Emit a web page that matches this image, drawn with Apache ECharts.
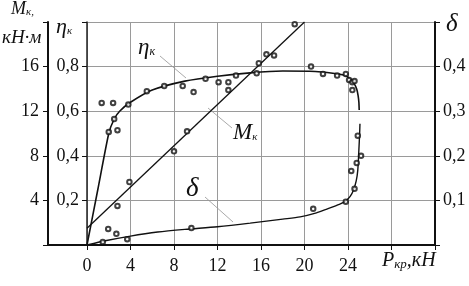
<!DOCTYPE html>
<html><head><meta charset="utf-8">
<script src="https://cdn.jsdelivr.net/npm/echarts@6/dist/echarts.min.js"></script>
<style>html,body{margin:0;padding:0;background:#fff}#c{width:469px;height:286px}</style>
</head><body><div id="c"></div>
<script>
// x-axis ticks (P_kr, kN)
const xTicks = [0, 4, 8, 12, 16, 20, 24];
// M_k straight line (kN·m)
const mkLine = [[0, 1.5], [20, 20]];
// M_k measured points
const mkPoints = [[2.8, 3.5], [3.9, 5.65], [8.0, 8.4], [9.2, 10.2], [13.0, 13.9], [15.6, 15.4], [15.8, 16.3], [16.5, 17.1], [17.2, 17.0], [19.1, 19.8]];
// eta_k curve
const etaCurve = [[0, 0], [1, 0.25], [2, 0.5], [2.5, 0.565], [3, 0.6], [4, 0.64], [6, 0.695], [9, 0.735], [12, 0.757], [15, 0.772], [18, 0.78], [21, 0.778], [22.6, 0.77], [23.6, 0.762], [24.2, 0.745], [24.55, 0.725], [24.8, 0.7], [24.93, 0.67], [25.0, 0.64], [25.03, 0.605]];
// eta_k measured points
const etaPoints = [[1.35, 0.637], [2.4, 0.637], [3.8, 0.63], [5.5, 0.69], [2.5, 0.565], [2.0, 0.507], [2.8, 0.515], [7.1, 0.713], [8.8, 0.713], [9.8, 0.686], [10.9, 0.745], [12.1, 0.73], [13.0, 0.73], [13.7, 0.76], [20.6, 0.80], [21.7, 0.767], [23.0, 0.76], [23.8, 0.767], [24.1, 0.74], [24.4, 0.73], [24.6, 0.735], [24.4, 0.695]];
// delta curve
const deltaCurve = [[0, 0], [1.8, 0.01], [4, 0.02], [6.5, 0.029], [9, 0.035], [12, 0.041], [15, 0.049], [18, 0.058], [19.6, 0.063], [21.1, 0.072], [22, 0.08], [23.2, 0.091], [23.8, 0.099], [24.2, 0.109], [24.5, 0.123], [24.75, 0.143], [24.9, 0.168], [25.0, 0.213], [25.07, 0.25], [25.1, 0.272]];
// delta measured points
const deltaPoints = [[1.45, 0.007], [1.95, 0.036], [2.7, 0.025], [3.7, 0.013], [9.6, 0.038], [20.8, 0.081], [23.8, 0.097], [24.6, 0.126], [24.3, 0.166], [24.8, 0.184], [25.2, 0.2], [24.9, 0.245]];

const F = 'Liberation Serif';
const comma = v => v.toFixed(1).replace('.', ',');
const chart = echarts.init(document.getElementById('c'));
const pt = {type: 'scatter', symbol: 'emptyCircle', symbolSize: 4.5, itemStyle: {color: '#111', borderWidth: 1}, z: 5};
const lbl = {color: '#111', fontFamily: F, fontSize: 18};
const it = (s) => ({fontFamily: F, fontStyle: 'italic', fontSize: s, fill: '#111', color: '#111'});
chart.setOption({
  animation: false,
  backgroundColor: '#fff',
  grid: {left: 87, right: 34, top: 22, bottom: 41},
  xAxis: {type: 'value', min: 0, max: 32, interval: 4,
    axisLine: {lineStyle: {color: '#111', width: 2}},
    axisTick: {length: 5, lineStyle: {color: '#111'}},
    axisLabel: Object.assign({margin: 12, formatter: v => xTicks.indexOf(v) >= 0 ? String(v) : ''}, lbl),
    splitLine: {lineStyle: {color: '#9a9a9a', width: 1}}},
  yAxis: [
    {type: 'value', min: 0, max: 1, interval: 0.2, position: 'left',
      axisLine: {show: true, lineStyle: {color: '#222', width: 1.5}},
      axisTick: {show: true, length: 5, lineStyle: {color: '#111'}},
      axisLabel: Object.assign({margin: 8, formatter: v => (v <= 0.001 || v >= 0.999) ? '' : comma(v)}, lbl),
      splitLine: {lineStyle: {color: '#9a9a9a', width: 1}}},
    {type: 'value', min: 0, max: 20, interval: 4, position: 'left', offset: 39,
      axisLine: {show: true, lineStyle: {color: '#111', width: 2}},
      axisTick: {show: true, length: 5, lineStyle: {color: '#111'}},
      axisLabel: Object.assign({margin: 9, formatter: v => (v === 0 || v === 20) ? '' : String(v)}, lbl),
      splitLine: {show: false}},
    {type: 'value', min: 0, max: 0.5, interval: 0.1, position: 'right',
      axisLine: {show: true, lineStyle: {color: '#111', width: 2}},
      axisTick: {show: true, length: 5, lineStyle: {color: '#111'}},
      axisLabel: Object.assign({margin: 8, formatter: v => (v <= 0.001 || v >= 0.499) ? '' : comma(v)}, lbl),
      splitLine: {show: false}}
  ],
  series: [
    {type: 'line', yAxisIndex: 1, data: mkLine, symbol: 'none', lineStyle: {color: '#111', width: 1.3}, clip: true},
    Object.assign({yAxisIndex: 1, data: mkPoints}, pt),
    {type: 'line', yAxisIndex: 0, data: etaCurve, smooth: 0.2, symbol: 'none', lineStyle: {color: '#111', width: 1.6}},
    Object.assign({yAxisIndex: 0, data: etaPoints}, pt),
    {type: 'line', yAxisIndex: 2, data: deltaCurve, smooth: 0.25, symbol: 'none', lineStyle: {color: '#111', width: 1.4}},
    Object.assign({yAxisIndex: 2, data: deltaPoints}, pt)
  ],
  graphic: [
    {type: 'line', shape: {x1: 47, y1: 245, x2: 88, y2: 245}, style: {stroke: '#111', lineWidth: 2}},
    {type: 'line', shape: {x1: 160, y1: 56, x2: 186, y2: 78}, style: {stroke: '#aaa', lineWidth: 1}},
    {type: 'line', shape: {x1: 208, y1: 108, x2: 232, y2: 128}, style: {stroke: '#aaa', lineWidth: 1}},
    {type: 'line', shape: {x1: 205, y1: 197, x2: 233, y2: 222}, style: {stroke: '#aaa', lineWidth: 1}},
    {type: 'text', left: 11, top: 0, style: {text: '{i|M}{s|к,}', rich: {i: it(18), s: Object.assign(it(11), {padding: [7, 0, 0, 0]})}}},
    {type: 'text', left: 2, top: 28, style: {text: 'кН·м', font: 'italic 19px ' + F, fill: '#111'}},
    {type: 'text', left: 56, top: 16, style: {text: '{i|η}{s|к}', rich: {i: it(22), s: Object.assign(it(11), {padding: [8, 0, 0, 0]})}}},
    {type: 'text', left: 446, top: 12, style: {text: 'δ', font: 'italic 25px ' + F, fill: '#111'}},
    {type: 'text', left: 138, top: 36, style: {text: '{i|η}{s|к}', rich: {i: it(23), s: Object.assign(it(12), {padding: [9, 0, 0, 0]})}}},
    {type: 'text', left: 233, top: 121, style: {text: '{i|M}{s|к}', rich: {i: it(23), s: Object.assign(it(11), {padding: [10, 0, 0, 0]})}}},
    {type: 'text', left: 186, top: 175, style: {text: 'δ', font: 'italic 27px ' + F, fill: '#111'}},
    {type: 'text', left: 382, top: 251, style: {text: '{i|P}{s|кр}{i|,кН}', rich: {i: it(20), s: Object.assign(it(13), {padding: [8, 0, 0, 0]})}}}
  ]
});
</script></body></html>
